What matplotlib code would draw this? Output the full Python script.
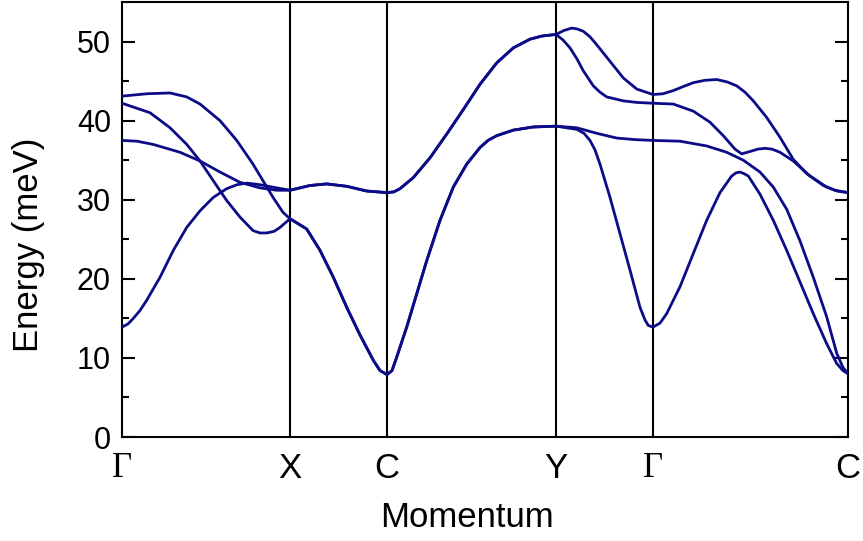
import matplotlib
matplotlib.use("Agg")
import matplotlib.pyplot as plt
import numpy as np

plt.rcParams['font.family'] = ['Liberation Sans', 'DejaVu Sans']

# high-symmetry points along the path
kpt_pos = [0.0, 1.68, 2.65, 4.34, 5.31, 7.26]
kpt_labels = ["\u0393", "X", "C", "Y", "\u0393", "C"]
serif_labels = ["\u0393"]

# phonon branches, (k, energy in meV)
band_a_k = [0.0, 0.06, 0.113, 0.18, 0.247, 0.38, 0.513, 0.647, 0.78, 0.913, 1.047, 1.15, 1.25,
            1.38, 1.547, 1.68,
            1.88, 2.047, 2.247, 2.447, 2.65,
            2.72, 2.78, 2.913, 3.08, 3.247, 3.413, 3.58, 3.747, 3.913, 4.08, 4.2, 4.34,
            4.42, 4.497, 4.55, 4.613, 4.68, 4.747, 4.88, 5.013, 5.147, 5.31,
            5.41, 5.513, 5.61, 5.713, 5.83, 5.947, 6.05, 6.147, 6.23, 6.313, 6.447, 6.58,
            6.713, 6.847, 7.013, 7.13, 7.26]
band_a_e = [13.9, 14.3, 15.0, 16.0, 17.3, 20.2, 23.6, 26.5, 28.6, 30.3, 31.4, 31.9, 32.1,
            31.9, 31.5, 31.2,
            31.8, 32.0, 31.7, 31.1, 30.9,
            31.0, 31.4, 32.8, 35.3, 38.3, 41.4, 44.6, 47.3, 49.2, 50.3, 50.7, 50.9,
            51.4, 51.7, 51.6, 51.3, 50.6, 49.6, 47.5, 45.4, 44.0, 43.3,
            43.4, 43.8, 44.3, 44.8, 45.1, 45.2, 44.9, 44.4, 43.6, 42.5, 40.4, 37.9,
            35.1, 33.3, 31.8, 31.2, 30.9]

band_b_k = [0.0, 0.15, 0.31, 0.58, 0.78, 0.98, 1.18, 1.38, 1.547, 1.68,
            1.88, 2.047, 2.247, 2.447, 2.65,
            2.72, 2.78, 2.913, 3.08, 3.247, 3.413, 3.58, 3.747, 3.913, 4.08, 4.2, 4.34,
            4.41, 4.48, 4.55, 4.613, 4.713, 4.78, 4.847, 5.013, 5.15, 5.31,
            5.513, 5.713, 5.88, 6.013, 6.13, 6.197, 6.28, 6.36, 6.43, 6.5, 6.58, 6.713,
            6.88, 7.047, 7.15, 7.26]
band_b_e = [37.5, 37.4, 37.0, 36.0, 34.9, 33.5, 32.2, 31.5, 31.2, 31.2,
            31.8, 32.0, 31.7, 31.1, 30.9,
            31.0, 31.4, 32.8, 35.3, 38.3, 41.4, 44.6, 47.3, 49.2, 50.3, 50.7, 50.9,
            50.2, 49.2, 47.8, 46.3, 44.4, 43.6, 43.0, 42.5, 42.3, 42.2,
            42.1, 41.2, 39.8, 38.1, 36.4, 35.8, 36.1, 36.4, 36.5, 36.4, 36.0, 34.9,
            33.0, 31.6, 31.1, 30.9]

band_c_k = [0.0, 0.25, 0.48, 0.647, 0.78, 0.98, 1.147, 1.31, 1.41, 1.51, 1.61, 1.68,
            1.847, 1.98, 2.113, 2.247, 2.38, 2.513, 2.58, 2.65,
            2.70, 2.747, 2.847, 2.947, 3.047, 3.18, 3.313, 3.447, 3.58, 3.66, 3.747, 3.913,
            4.113, 4.34,
            4.547, 4.747, 4.947, 5.13, 5.31,
            5.58, 5.847, 6.047, 6.213, 6.38, 6.513, 6.647, 6.78, 6.913, 7.047, 7.147, 7.21, 7.26]
band_c_e = [43.1, 43.4, 43.5, 43.0, 42.1, 40.0, 37.5, 34.5, 32.4, 30.3, 28.4, 27.6,
            26.3, 23.6, 20.2, 16.4, 12.9, 9.7, 8.4, 7.9,
            8.4, 10.1, 13.9, 18.1, 22.3, 27.4, 31.6, 34.5, 36.6, 37.5, 38.1, 38.8,
            39.2, 39.3,
            39.1, 38.4, 37.8, 37.6, 37.5,
            37.4, 36.8, 36.0, 35.0, 33.5, 31.6, 28.8, 24.8, 20.2, 15.2, 10.6, 8.8, 8.0]

band_d_k = [0.0, 0.28, 0.48, 0.647, 0.78, 0.913, 1.047, 1.18, 1.31, 1.38, 1.447, 1.52, 1.58,
            1.68,
            1.847, 1.98, 2.113, 2.247, 2.38, 2.513, 2.58, 2.65,
            2.70, 2.747, 2.847, 2.947, 3.047, 3.18, 3.313, 3.447, 3.58, 3.66, 3.747, 3.913,
            4.113, 4.34,
            4.547, 4.62, 4.68, 4.73, 4.78, 4.88, 4.98, 5.08, 5.18, 5.23, 5.263, 5.31,
            5.38, 5.447, 5.58, 5.713, 5.847, 5.98, 6.097, 6.14, 6.18, 6.22, 6.263, 6.38,
            6.513, 6.647, 6.78, 6.913, 7.047, 7.147, 7.21, 7.26]
band_d_e = [42.2, 41.0, 39.1, 37.0, 34.9, 32.4, 29.9, 27.8, 26.1, 25.8, 25.8, 26.0, 26.5,
            27.6,
            26.3, 23.6, 20.2, 16.4, 12.9, 9.7, 8.4, 7.9,
            8.4, 10.1, 13.9, 18.1, 22.3, 27.4, 31.6, 34.5, 36.6, 37.5, 38.1, 38.8,
            39.2, 39.3,
            38.9, 38.4, 37.5, 36.3, 34.5, 30.3, 25.7, 21.1, 16.4, 14.8, 14.1, 13.9,
            14.4, 15.6, 19.0, 23.2, 27.4, 30.9, 33.0, 33.4, 33.5, 33.3, 33.0, 30.7,
            27.4, 23.6, 19.6, 15.6, 11.8, 9.3, 8.4, 8.0]

bands = [(band_a_k, band_a_e), (band_b_k, band_b_e),
         (band_c_k, band_c_e), (band_d_k, band_d_e)]

fig = plt.figure(figsize=(8.63, 5.41), dpi=100)
ax = fig.add_axes([0.1414, 0.1922, 0.8412, 0.8041])

for k, e in bands:
    ax.plot(k, e, color="#0c0c88", lw=2.0, solid_joinstyle="round", zorder=3)

for x in kpt_pos[1:-1]:
    ax.axvline(x, color="black", lw=1.5, zorder=2)

ax.set_xlim(kpt_pos[0], kpt_pos[-1])
ax.set_ylim(0, 55)

ax.set_xticks(kpt_pos)
ax.set_xticklabels(kpt_labels, fontsize=25)
for lab in ax.get_xticklabels():
    if lab.get_text() in serif_labels:
        lab.set_family("Liberation Serif")
ax.tick_params(axis="x", length=0, pad=11)

ax.set_yticks(np.arange(0, 51, 10))
ax.set_yticks(np.arange(0, 55, 5), minor=True)
ax.tick_params(axis="y", which="major", direction="in", length=9.5, width=1.5,
               labelsize=22, pad=8, right=True)
ax.tick_params(axis="y", which="minor", direction="in", length=5, width=1.5, right=True)

for s in ax.spines.values():
    s.set_linewidth(1.5)

ax.set_xlabel("Momentum", fontsize=25)
ax.set_ylabel("Energy (meV)", fontsize=25)
ax.xaxis.set_label_coords(0.475, -0.147)
ax.yaxis.set_label_coords(-0.106, 0.441)

fig.savefig("out.png", dpi=100)
